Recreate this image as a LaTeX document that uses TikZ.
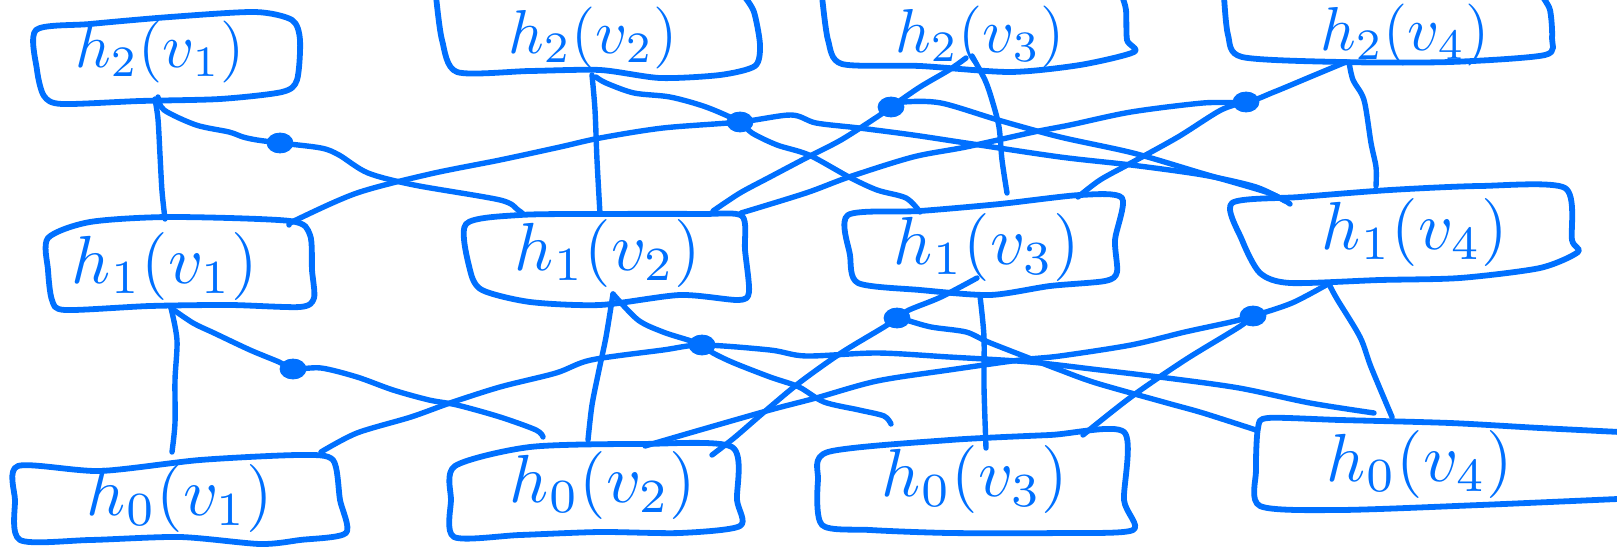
\documentclass[tikz,border=0pt]{standalone}
\usepackage{graphicx}
\usetikzlibrary{shapes.geometric}
\definecolor{pen}{RGB}{0,112,255}
\newcommand{\biglab}[1]{\scalebox{3.4}{$#1$}}
\newcommand{\toplab}[1]{\scalebox{3.1}{$#1$}}
\tikzset{
  wire/.style={draw=pen, line width=2.7pt, line cap=round, line join=round},
  boxline/.style={draw=pen, line width=2.9pt, line cap=round, line join=round},
  lab/.style={text=pen, inner sep=0pt},
  dotn/.style={ellipse, fill=pen, draw=pen, minimum width=13pt, minimum height=10pt, inner sep=0pt}
}
\begin{document}
\begin{tikzpicture}[x=0.5pt,y=-0.5pt]
\useasboundingbox (0,0) rectangle (1617,551);

% ---------- boxes (outlines) ----------
\draw[boxline] plot[smooth cycle, tension=0.45] coordinates {(36,30) (90,24) (170,17) (255,12) (292,20) (300,40) (297,80) (282,92) (220,99) (140,101) (62,104) (44,96) (37,70)};
\draw[boxline] plot[smooth, tension=0.45] coordinates {(436,-4) (442,40) (457,72) (530,71) (600,70) (660,78) (720,75) (755,66) (760,45) (754,12) (744,-4)};
\draw[boxline] plot[smooth, tension=0.45] coordinates {(822,-4) (828,40) (842,64) (920,66) (1010,72) (1080,65) (1134,52) (1127,40) (1126,10) (1122,-4)};
\draw[boxline] plot[smooth, tension=0.45] coordinates {(1224,-4) (1228,35) (1242,57) (1340,62) (1450,62) (1545,55) (1552,38) (1550,10) (1542,-4)};

\draw[boxline] plot[smooth cycle, tension=0.45] coordinates {(48,238) (90,222) (170,217) (290,221) (310,235) (312,270) (314,298) (300,307) (230,305) (150,306) (65,310) (52,300) (48,270)};
\draw[boxline] plot[smooth cycle, tension=0.45] coordinates {(466,224) (520,215) (600,214) (700,214) (742,216) (745,250) (749,292) (738,300) (680,295) (600,305) (530,302) (482,290) (470,270)};
\draw[boxline] plot[smooth cycle, tension=0.45] coordinates {(848,215) (920,211) (1000,204) (1080,195) (1122,198) (1115,240) (1117,272) (1105,281) (1050,286) (990,295) (920,290) (858,283) (850,255)};
\draw[boxline] plot[smooth cycle, tension=0.45] coordinates {(1232,203) (1300,197) (1390,190) (1480,186) (1565,188) (1572,240) (1578,252) (1540,268) (1460,278) (1380,280) (1290,283) (1260,273) (1242,240)};

\draw[boxline] plot[smooth cycle, tension=0.45] coordinates {(18,466) (100,471) (200,460) (300,455) (333,460) (340,500) (346,533) (300,540) (260,544) (180,537) (90,540) (20,540) (15,500)};
\draw[boxline] plot[smooth cycle, tension=0.45] coordinates {(455,466) (530,447) (640,444) (732,447) (737,500) (740,526) (680,533) (600,532) (520,535) (454,537) (451,500)};
\draw[boxline] plot[smooth cycle, tension=0.45] coordinates {(828,452) (950,440) (1050,435) (1124,432) (1124,500) (1133,530) (1060,533) (950,533) (870,530) (822,525) (818,480)};
\draw[boxline] plot[smooth, tension=0.45] coordinates {(1640,433) (1540,428) (1450,423) (1340,420) (1268,418) (1258,428) (1256,470) (1260,506) (1340,510) (1480,505) (1640,498)};

% ---------- labels ----------
\node[lab] (b21) at (160,52) {\toplab{h_{2}(v_{1})}};
\node[lab] (b22) at (593,38) {\toplab{h_{2}(v_{2})}};
\node[lab] (b23) at (980,37) {\toplab{h_{2}(v_{3})}};
\node[lab] (b24) at (1405,35) {\toplab{h_{2}(v_{4})}};
\node[lab] (b11) at (165,266) {\biglab{h_{1}(v_{1})}};
\node[lab] (b12) at (608,253) {\biglab{h_{1}(v_{2})}};
\node[lab] (b13) at (987,247) {\biglab{h_{1}(v_{3})}};
\node[lab] (b14) at (1415,232) {\biglab{h_{1}(v_{4})}};
\node[lab] (b01) at (180,498) {\biglab{h_{0}(v_{1})}};
\node[lab] (b02) at (603,485) {\biglab{h_{0}(v_{2})}};
\node[lab] (b03) at (975,479) {\biglab{h_{0}(v_{3})}};
\node[lab] (b04) at (1420,464) {\biglab{h_{0}(v_{4})}};

% ---------- connector end points ----------
\coordinate (b21s) at (155,99);
\coordinate (b21e) at (158,97);
\coordinate (b22s) at (592,75);
\coordinate (b22e) at (596,77);
\coordinate (b23s) at (972,56);
\coordinate (b23w) at (966,58);
\coordinate (b24s) at (1349,62);
\coordinate (b24w) at (1346,62);
\coordinate (b11n) at (165,219);
\coordinate (b11e) at (289,225);
\coordinate (b11s) at (171,308);
\coordinate (b12w) at (523,214);
\coordinate (b12n) at (600,214);
\coordinate (b12e) at (713,211);
\coordinate (b12f) at (741,213);
\coordinate (b12s) at (613,294);
\coordinate (b13w) at (920,212);
\coordinate (b13n) at (1007,193);
\coordinate (b13e) at (1078,197);
\coordinate (b13s) at (980,296);
\coordinate (b13f) at (977,278);
\coordinate (b14w) at (1285,201);
\coordinate (b14v) at (1290,204);
\coordinate (b14n) at (1376,186);
\coordinate (b14s) at (1330,286);
\coordinate (b14f) at (1328,284);
\coordinate (b01n) at (172,452);
\coordinate (b01e) at (321,452);
\coordinate (b02w) at (543,437);
\coordinate (b02n) at (588,440);
\coordinate (b02e) at (712,455);
\coordinate (b02f) at (645,446);
\coordinate (b03w) at (891,424);
\coordinate (b03n) at (986,448);
\coordinate (b03e) at (1083,435);
\coordinate (b04w) at (1256,430);
\coordinate (b04n) at (1392,417);
\coordinate (b04u) at (1374,413);

% ---------- dots ----------
\node[dotn] (d1) at (280,143) {};
\node[dotn] (d2) at (740,122) {};
\node[dotn] (d3) at (891,107) {};
\node[dotn] (d4) at (1246,102) {};
\node[dotn] (e1) at (293,369) {};
\node[dotn] (e2) at (702,345) {};
\node[dotn] (e3) at (897,318) {};
\node[dotn] (e4) at (1253,316) {};

% ---------- vertical connectors ----------
\draw[wire] plot[smooth, tension=0.5] coordinates {(b21s) (158,119) (160,155) (162,191) (b11n)};
\draw[wire] plot[smooth, tension=0.5] coordinates {(b22s) (595,110) (597,160) (b12n)};
\draw[wire] plot[smooth, tension=0.5] coordinates {(b23s) (985,80) (992,100) (999,127) (1002,160) (b13n)};
\draw[wire] plot[smooth, tension=0.5] coordinates {(b24s) (1353,80) (1364,100) (1371,143) (1376,167) (b14n)};
\draw[wire] plot[smooth, tension=0.5] coordinates {(b11s) (177,340) (175,380) (175,423) (b01n)};
\draw[wire] plot[smooth, tension=0.5] coordinates {(b12s) (606,337) (599,370) (592,405) (b02n)};
\draw[wire] plot[smooth, tension=0.5] coordinates {(b13s) (984,337) (984,387) (b03n)};
\draw[wire] plot[smooth, tension=0.5] coordinates {(b14s) (1337,299) (1360,337) (1371,367) (b04n)};

% ---------- top band cross connectors ----------
\draw[wire] plot[smooth, tension=0.5] coordinates {(b21e) (164,110) (196,125) (229,132) (243,137) (257,140) (d1.center) (321,148) (339,155) (368,173) (414,185) (500,200) (518,210) (b12w)};
\draw[wire] plot[smooth, tension=0.5] coordinates {(b11e) (296,220) (357,193) (430,174) (500,160) (560,147) (600,138) (663,128) (d2.center) (791,115) (816,123) (859,128) (913,135) (966,143) (1060,157) (1131,165) (1203,175) (1256,187) (b14w)};
\draw[wire] plot[smooth, tension=0.5] coordinates {(b22e) (606,83) (634,93) (670,97) (706,107) (d2.center) (752,133) (777,145) (809,155) (849,177) (877,190) (906,198) (b13w)};
\draw[wire] plot[smooth, tension=0.5] coordinates {(b12e) (740,193) (770,177) (806,158) (841,140) (877,117) (d3.center) (920,87) (949,70) (b23w)};
\draw[wire] plot[smooth, tension=0.5] coordinates {(d3.center) (904,102) (941,103) (998,120) (1060,137) (1133,153) (1201,173) (1269,193) (b14v)};
\draw[wire] plot[smooth, tension=0.5] coordinates {(b12f) (806,193) (849,177) (913,157) (966,147) (1034,132) (1070,125) (1131,112) (1203,103) (d4.center) (1274,92) (1310,77) (b24w)};
\draw[wire] plot[smooth, tension=0.5] coordinates {(b13e) (1100,180) (1131,163) (1178,137) (1221,110) (d4.center)};

% ---------- bottom band cross connectors ----------
\draw[wire] plot[smooth, tension=0.5] coordinates {(b11s) (193,323) (214,333) (250,350) (279,362) (e1.center) (321,368) (357,377) (393,390) (429,400) (457,405) (500,417) (536,430) (b02w)};
\draw[wire] plot[smooth, tension=0.5] coordinates {(b01e) (357,433) (411,417) (450,403) (500,387) (556,373) (591,360) (663,350) (e2.center) (770,350) (806,356) (877,353) (949,357) (1030,362) (1100,370) (1167,378) (1239,388) (1310,403) (b04u)};
\draw[wire] plot[smooth, tension=0.5] coordinates {(b12s) (638,320) (663,332) (688,340) (e2.center) (713,353) (734,363) (770,377) (799,387) (824,402) (859,410) (884,416) (b03w)};
\draw[wire] plot[smooth, tension=0.5] coordinates {(b13f) (941,297) (909,310) (e3.center) (884,327) (841,353) (799,383) (763,413) (734,438) (b02e)};
\draw[wire] plot[smooth, tension=0.5] coordinates {(e3.center) (906,320) (931,327) (966,332) (988,342) (1034,360) (1060,370) (1096,383) (1167,403) (1203,413) (b04w)};
\draw[wire] plot[smooth, tension=0.5] coordinates {(b14f) (1292,303) (e4.center) (1231,322) (1185,332) (1131,345) (1060,356) (1020,360) (949,370) (877,381) (816,398) (770,410) (700,430) (b02f)};
\draw[wire] plot[smooth, tension=0.5] coordinates {(e4.center) (1239,327) (1185,360) (1131,397) (b03e)};
\end{tikzpicture}
\end{document}
